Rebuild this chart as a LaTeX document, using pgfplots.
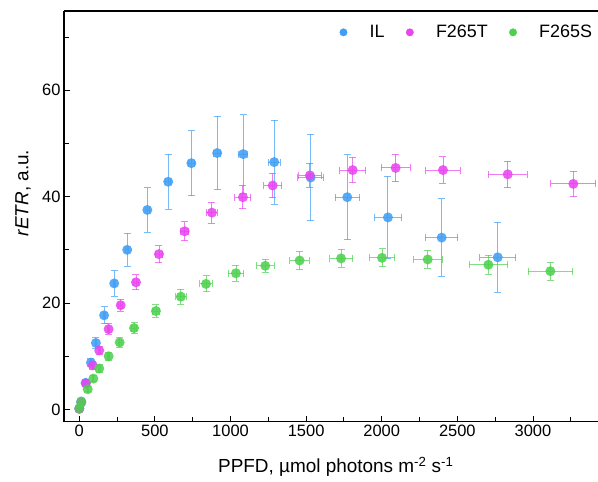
\documentclass[border=0pt]{standalone}
\usepackage{pgfplots}
\usepackage{pgfplotstable}
\pgfplotsset{compat=1.18}
\usepackage{fontspec}
\setmainfont{Liberation Sans}

\definecolor{ilblue}{RGB}{64,158,245}
\definecolor{tmag}{RGB}{233,68,240}
\definecolor{sgreen}{RGB}{77,208,77}

\pgfplotstableread{
x y ex ey
0 0.2 0 0.3
13 1.5 0 0.4
42 5.0 3 0.6
77 8.8 4 0.8
110 12.5 5 1.0
164 17.7 6 1.6
231 23.7 8 2.4
317 30.0 10 3.1
450 37.5 12 4.2
588 42.8 15 5.2
741 46.3 18 6.1
912 48.2 22 6.9
1084 48.0 31 7.4
1289 46.5 41 7.9
1530 43.6 85 8.1
1772 39.9 81 8.0
2041 36.1 91 7.7
2396 32.3 107 7.3
2767 28.6 120 6.6
}\ILdata

\pgfplotstableread{
x y ex ey
0 0.1 0 0.2
13 1.3 0 0.3
44 4.9 3 0.5
89 8.3 4 0.7
132 11.1 5 0.8
194 15.1 8 1.0
274 19.6 12 1.1
375 23.9 16 1.4
527 29.2 22 1.6
697 33.5 28 1.8
877 37.0 36 2.0
1082 39.9 53 2.2
1279 42.1 59 2.3
1525 44.0 74 2.25
1808 45.0 86 2.4
2092 45.4 97 2.6
2405 45.0 115 2.5
2833 44.2 129 2.5
3267 42.4 149 2.4
}\Tdata

\pgfplotstableread{
x y ex ey
0 0.2 0 0.2
13 1.4 0 0.3
56 3.8 3 0.5
93 5.8 4 0.6
132 7.7 5 0.7
194 10.0 8 0.8
267 12.6 11 0.9
362 15.3 15 1.0
507 18.5 21 1.2
672 21.2 35 1.4
838 23.6 42 1.5
1036 25.6 52 1.5
1230 27.0 58 1.25
1457 28.0 65 1.7
1731 28.4 76 1.7
2002 28.5 84 1.7
2304 28.2 97 1.7
2705 27.2 127 1.75
3115 26.0 147 1.7
}\Sdata

\begin{document}
\begin{tikzpicture}
\begin{axis}[
  scale only axis,
  width=534bp, height=410.7bp,
  xmin=-101, xmax=3430,
  ymin=-2.3, ymax=74.9,
  axis x line*=box, axis y line*=left,
  axis line style={line width=1.1bp, black},
  xtick pos=bottom, ytick pos=left,
  tick align=inside,
  xtick={0,500,...,3000},
  minor xtick={250,750,...,3250},
  ytick={0,20,40,60},
  minor ytick={10,30,50,70},
  major tick length=6bp, minor tick length=4.5bp,
  tick style={line width=0.9bp, black},
  /pgf/number format/assume math mode=true,
  /pgf/number format/1000 sep={},
  font=\fontsize{19}{22}\selectfont,
  tick label style={font=\fontsize{16.5}{20}\selectfont},
  xlabel={PPFD, µmol photons m\textsuperscript{-2} s\textsuperscript{-1}},
  ylabel={\textit{rETR}, a.u.},
  label style={font=\fontsize{19}{22}\selectfont},
  xlabel style={at={(axis description cs:0.509,-0.110)}, anchor=center},
  ylabel style={at={(axis description cs:-0.0768,0.557)}, anchor=center},
  legend columns=3,
  legend image code/.code={\path (-4bp,0bp) (24bp,0bp); \draw[#1] plot coordinates {(0bp,0bp)};},
  legend style={draw=none, fill=none, inner sep=0pt, outer sep=0pt,
    at={(axis description cs:0.5155,0.948)}, anchor=west,
    font=\fontsize{18}{21}\selectfont,
    /tikz/every even column/.append style={column sep=19bp}},
  error bars/error bar style={line width=0.9bp, opacity=0.7},
  error bars/error mark options={rotate=90, mark size=3.5bp, line width=0.9bp, opacity=0.7},
]
\addlegendimage{only marks, mark=*, mark size=3.7bp, color=ilblue}
\addlegendentry{IL}
\addlegendimage{only marks, mark=*, mark size=3.7bp, color=tmag}
\addlegendentry{F265T}
\addlegendimage{only marks, mark=*, mark size=3.7bp, color=sgreen}
\addlegendentry{F265S}

\addplot[only marks, mark=*, mark size=5bp, color=ilblue,
  mark options={fill opacity=0.88, draw opacity=0},
  error bars/.cd, x dir=both, x explicit, y dir=both, y explicit]
  table[x=x, y=y, x error=ex, y error=ey] {\ILdata};
\addplot[only marks, mark=*, mark size=5bp, color=tmag,
  mark options={fill opacity=0.88, draw opacity=0},
  error bars/.cd, x dir=both, x explicit, y dir=both, y explicit]
  table[x=x, y=y, x error=ex, y error=ey] {\Tdata};
\addplot[only marks, mark=*, mark size=5bp, color=sgreen,
  mark options={fill opacity=0.88, draw opacity=0},
  error bars/.cd, x dir=both, x explicit, y dir=both, y explicit]
  table[x=x, y=y, x error=ex, y error=ey] {\Sdata};
\end{axis}
\pgfresetboundingbox
\path (-64bp,-60.3bp) rectangle (534bp,421.7bp);
\end{tikzpicture}
\end{document}
